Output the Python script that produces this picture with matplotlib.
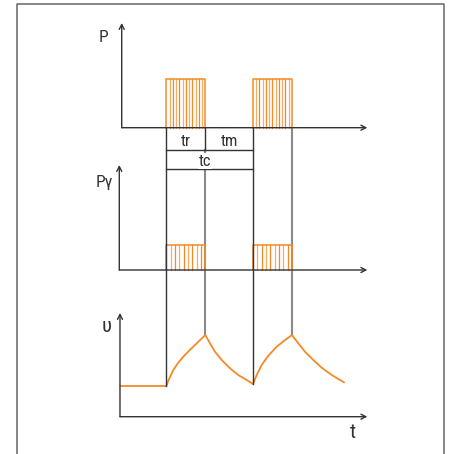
import matplotlib
matplotlib.use('Agg')
import matplotlib.pyplot as plt
import matplotlib.transforms as mtransforms
from matplotlib.lines import Line2D
from matplotlib import font_manager
import numpy as np

# narrow face if one is available
_names = {f.name for f in font_manager.fontManager.ttflist}
_narrow = [n for n in ('Liberation Sans Narrow', 'Arial Narrow', 'Roboto Condensed',
                       'Open Sans Condensed') if n in _names]
plt.rcParams['font.family'] = _narrow + ['DejaVu Sans']
plt.rcParams['font.stretch'] = 'condensed'

# timing of the two heating pulses (time units, origin at the axes)
pulse_on = [5.3, 15.3]
t_r = 4.5          # pulse duration
t_m = 5.5          # pause
t_axis_end = 28.5

# pulse heights
p_level = 48.4     # P
pg_level = 25.3    # P gamma

# temperature response
theta_t = [0.0, 5.3, 5.5, 5.7, 6.1, 6.7, 7.25, 8.0, 8.8, 9.4, 9.8,
           10.33, 10.91, 11.69, 12.65, 13.6, 14.57, 15.3,
           15.73, 16.3, 17.07, 18.04, 19.0, 19.8,
           20.53, 21.3, 22.26, 23.23, 24.39, 25.8]
theta_v = [30.7, 30.7, 35.5, 39.5, 46.7, 54.4, 60.0, 66.7, 73.4, 78.4, 81.7,
           73.4, 65.0, 56.7, 48.4, 41.7, 36.7, 32.7,
           41.7, 51.7, 61.0, 70.0, 76.7, 81.7,
           73.4, 65.0, 56.7, 49.0, 41.7, 34.4]

W, H = 452, 454
X0, SX = 120.5, 8.66          # pixel position of t=0, pixels per time unit
base_p, base_g, base_th = 127.7, 270.0, 416.7
axis_top = {base_p: 23.0, base_g: 165.0, base_th: 313.0}
axis_x = {base_p: 0.14, base_g: -0.14, base_th: -0.06}

dark = '#333333'
grey = '#8a8a8a'
orange = '#f58a25'

fig = plt.figure(figsize=(W / 100, H / 100), dpi=100)
ax = fig.add_axes([0, 0, 1, 1])
ax.axis('off')
ax.set_xlim(-X0 / SX, (W - X0) / SX)
ax.set_ylim(H, 0)

# pixel transform (origin top-left) for frame and labels
px = mtransforms.Affine2D().scale(1 / 100, -1 / 100).translate(0, H / 100) + fig.dpi_scale_trans

# outer frame, open at the bottom
fig.add_artist(Line2D([16.5, 16.5, 444, 444], [470, 3.5, 3.5, 470],
                      transform=px, color='#666666', lw=1.1))

arrow = dict(arrowstyle='->,head_length=0.35,head_width=0.18', color=dark,
             lw=1.0, shrinkA=0, shrinkB=0)
for base in (base_p, base_g, base_th):
    x0 = axis_x[base]
    ax.annotate('', xy=(x0, axis_top[base]), xytext=(x0, base), arrowprops=arrow)
    ax.annotate('', xy=(t_axis_end, base), xytext=(x0, base), arrowprops=arrow)


def draw_pulse(t0, base, level, n_lines):
    t1 = t0 + t_r
    top = base - level
    ax.plot([t0, t0, t1, t1], [base, top, top, base], color=orange, lw=1.1)
    for i, x in enumerate(np.linspace(t0, t1, n_lines)[1:-1]):
        ax.plot([x, x], [base, top], color=orange, lw=0.9,
                alpha=1.0 if i % 2 else 0.7)


for t0 in pulse_on:
    draw_pulse(t0, base_p, p_level, 13)
    draw_pulse(t0, base_g, pg_level, 10)

# temperature curve
th_y = [base_th - v for v in theta_v]
ax.plot(theta_t, th_y, color=orange, lw=1.3, solid_joinstyle='round')

# guide lines down from the pulse edges to the temperature curve
bracket_1, bracket_2 = 150.0, 169.3
for k, t0 in enumerate(pulse_on):
    y_on = base_th - np.interp(t0, theta_t, theta_v)
    ax.plot([t0, t0], [base_p, y_on], color=dark, lw=1.0)
    t1 = t0 + t_r
    y_off = base_th - np.interp(t1, theta_t, theta_v)
    y_top = bracket_1 if k == 0 else base_p
    ax.plot([t1, t1], [y_top, y_off], color=grey, lw=1.5, zorder=1)
    if k == 0:
        ax.plot([t1, t1], [base_p, bracket_1], color=dark, lw=1.0)

tc = t_r + t_m
for yb in (bracket_1, bracket_2):
    ax.plot([pulse_on[0], pulse_on[0] + tc], [yb, yb], color=dark, lw=1.0)

# labels
lab = dict(ha='center', va='center', color='#333333')
ax.text(pulse_on[0] + t_r / 2, 141.0, 'tr', fontsize=12, **lab)
ax.text(pulse_on[0] + t_r + t_m / 2, 141.0, 'tm', fontsize=12, **lab)
ax.text(pulse_on[0] + t_r, 161.0, 'tc', fontsize=12, zorder=5,
        bbox=dict(boxstyle='square,pad=0.05', fc='white', ec='none'), **lab)

ax.text(103, 38, 'P', transform=px, fontsize=12.5, **lab)
ax.text(104, 183, 'Pγ', transform=px, fontsize=12.5, **lab)
ax.text(106.5, 326, 'υ', transform=px, fontsize=15, **lab)
ax.text(352.7, 433, 't', transform=px, fontsize=15, **lab)

fig.savefig('out.png', dpi=100)
